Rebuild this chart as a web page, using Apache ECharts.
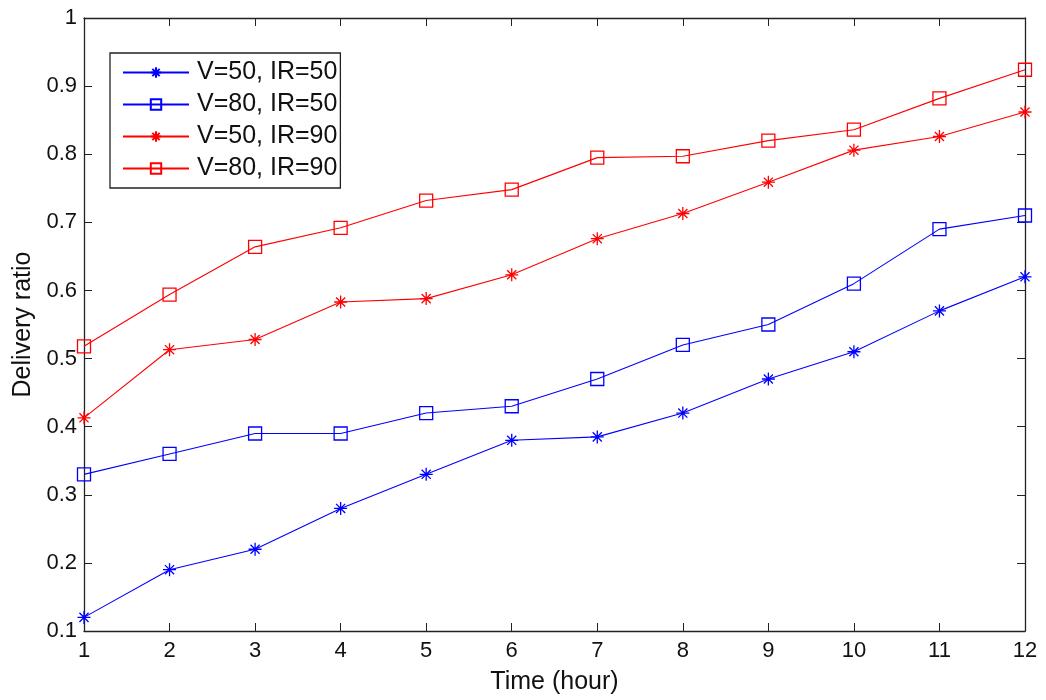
<!DOCTYPE html>
<html><head><meta charset="utf-8">
<script src="https://cdn.jsdelivr.net/npm/echarts@6/dist/echarts.min.js"></script>
<style>html,body{margin:0;padding:0;background:#fff}#c{width:1046px;height:700px}</style>
</head><body><div id="c"></div>
<script>
const hours = [1,2,3,4,5,6,7,8,9,10,11,12];
const seriesNames = ['V=50, IR=50','V=80, IR=50','V=50, IR=90','V=80, IR=90'];
const v50ir50 = [0.12,0.19,0.22,0.28,0.33,0.38,0.385,0.42,0.47,0.51,0.57,0.62];
const v80ir50 = [0.33,0.36,0.39,0.39,0.42,0.43,0.47,0.52,0.55,0.61,0.69,0.71];
const v50ir90 = [0.413,0.513,0.528,0.583,0.588,0.623,0.676,0.713,0.759,0.806,0.826,0.862];
const v80ir90 = [0.518,0.594,0.664,0.692,0.732,0.748,0.795,0.797,0.82,0.836,0.882,0.924];

const star = 'path://M5,0L5,10M0,5L10,5M1.5,1.5L8.5,8.5M8.5,1.5L1.5,8.5';
const FONT = 'Liberation Sans';
function mk(name, data, color, sym){
  return {
    name, type:'line', xAxisIndex:0, yAxisIndex:0,
    data: hours.map((h,i)=>[h,data[i]]),
    symbol: sym==='star'? star : 'rect',
    symbolSize: sym==='star'? 13 : 13,
    showAllSymbol:true,
    lineStyle:{color, width:1.1},
    itemStyle:{color: sym==='star'? color : 'rgba(255,255,255,0)', borderColor:color, borderWidth:1.3},
    emphasis:{disabled:true},
    animation:false
  };
}
const axisLine = {show:true, lineStyle:{color:'#222', width:1.3}};
const chart = echarts.init(document.getElementById('c'));
chart.setOption({
  backgroundColor:'#fff',
  animation:false,
  grid:{left:84, right:21, top:18, bottom:67, containLabel:false},
  legend:{
    orient:'vertical', left:110, top:53,
    data: seriesNames,
    itemWidth:66, itemHeight:13, itemGap:7,
    padding:[7,3,7,12],
    borderColor:'#222', borderWidth:1.3, backgroundColor:'#fff',
    textStyle:{fontFamily:FONT, fontSize:25, color:'#111', lineHeight:25, padding:[0,0,0,3]}
  },
  xAxis:[
    {type:'value', min:1, max:12, interval:1, position:'bottom',
     axisLine, axisTick:{inside:true, length:8, lineStyle:{color:'#222'}}, splitLine:{show:false},
     axisLabel:{fontFamily:FONT, fontSize:22, color:'#111', margin:9},
     name:'Time (hour)', nameLocation:'middle', nameGap:39,
     nameTextStyle:{fontFamily:FONT, fontSize:25, color:'#111'}},
    {type:'value', min:1, max:12, interval:1, position:'top',
     axisLine, axisTick:{inside:true, length:8, lineStyle:{color:'#222'}}, splitLine:{show:false},
     axisLabel:{show:false}}
  ],
  yAxis:[
    {type:'value', min:0.1, max:1, interval:0.1, position:'left',
     axisLine, axisTick:{inside:true, length:8, lineStyle:{color:'#222'}}, splitLine:{show:false},
     axisLabel:{fontFamily:FONT, fontSize:22, color:'#111', margin:7,
       formatter:v=>String(Math.round(v*10)/10)},
     name:'Delivery ratio', nameLocation:'middle', nameGap:48, nameRotate:90,
     nameTextStyle:{fontFamily:FONT, fontSize:25, color:'#111'}},
    {type:'value', min:0.1, max:1, interval:0.1, position:'right',
     axisLine, axisTick:{inside:true, length:8, lineStyle:{color:'#222'}}, splitLine:{show:false},
     axisLabel:{show:false}}
  ],
  series:[
    mk(seriesNames[0], v50ir50, '#0000ff', 'star'),
    mk(seriesNames[1], v80ir50, '#0000ff', 'rect'),
    mk(seriesNames[2], v50ir90, '#ff0000', 'star'),
    mk(seriesNames[3], v80ir90, '#ff0000', 'rect')
  ]
});
</script></body></html>
